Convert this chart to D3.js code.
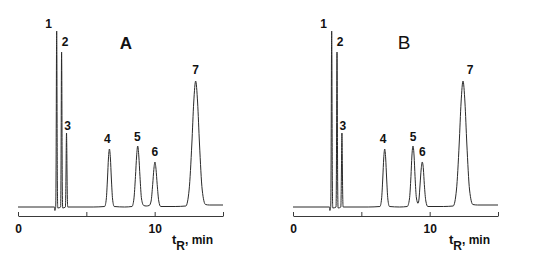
<!DOCTYPE html>
<html>
<head>
<meta charset="utf-8">
<script src="https://cdn.jsdelivr.net/npm/d3@7"></script>
<style>
  body { margin: 0; background: #fff; }
  text { font-family: "Liberation Sans", Arial, sans-serif; fill: #111; }
</style>
</head>
<body>
<div id="chart"></div>
<script>
// peak table (retention time in min, height in detector units)
const peakIds = ["1", "2", "3", "4", "5", "6", "7"];
const peakTimesA = [2.83, 3.19, 3.55, 6.69, 8.76, 10.02, 13.0];
const peakTimesB = [2.83, 3.22, 3.58, 6.71, 8.78, 9.46, 12.44];
const peakHeights = [176, 155, 74, 58, 61, 45, 126];

// detector trace of run A, [time, signal]
const traceA = [
  [0, 0], [2.66, 0], [2.68, 0], [2.70, -3.5], [2.74, -1],
  [2.76, 0], [2.78, 24], [2.80, 88], [2.815, 150], [2.83, 176], [2.845, 150], [2.86, 88], [2.88, 24], [2.91, -1],
  [3.12, 0], [3.14, 21], [3.16, 78], [3.175, 132], [3.19, 155], [3.205, 132], [3.22, 78], [3.24, 21], [3.27, -1],
  [3.47, 0], [3.49, 10], [3.515, 37], [3.532, 62], [3.55, 74], [3.568, 62], [3.585, 37], [3.61, 10], [3.64, 0],
  [5.5, 0],
  [6.34, 0.5], [6.46, 8], [6.55, 29], [6.62, 49], [6.69, 58], [6.76, 49], [6.83, 29], [6.92, 8], [7.04, 0.5],
  [7.8, 0],
  [8.34, 0.5], [8.48, 8], [8.595, 30.5], [8.68, 51], [8.76, 61], [8.84, 51], [8.925, 30.5], [9.04, 8], [9.2, 1.5],
  [9.38, 1],
  [9.6, 1.5], [9.74, 6], [9.855, 22.5], [9.94, 37.6], [10.02, 45], [10.10, 37.6], [10.185, 22.5], [10.30, 6], [10.44, 0.5],
  [11.5, 0.5],
  [12.28, 1], [12.52, 17], [12.72, 63], [12.86, 105], [13.0, 126], [13.14, 105], [13.28, 63], [13.48, 17], [13.72, 2.5],
  [14.0, 2], [15.0, 2]
];

// detector trace of run B, [time, signal]
const traceB = [
  [0, 0], [2.66, 0], [2.68, 0], [2.70, -3.5], [2.74, -1],
  [2.76, 0], [2.78, 24], [2.80, 88], [2.815, 150], [2.83, 176], [2.845, 150], [2.86, 88], [2.88, 24], [2.91, -1],
  [3.15, 0], [3.17, 21], [3.19, 78], [3.205, 132], [3.22, 155], [3.235, 132], [3.25, 78], [3.27, 21], [3.30, -1],
  [3.50, 0], [3.52, 10], [3.545, 37], [3.562, 62], [3.58, 74], [3.598, 62], [3.615, 37], [3.64, 10], [3.67, 0],
  [5.5, 0],
  [6.36, 0.5], [6.48, 8], [6.57, 29], [6.64, 49], [6.71, 58], [6.78, 49], [6.85, 29], [6.94, 8], [7.06, 0.5],
  [7.8, 0],
  [8.36, 0.5], [8.52, 8], [8.63, 30.5], [8.70, 51], [8.78, 61], [8.86, 51], [8.93, 30.5], [9.03, 9],
  [9.15, 3.7],
  [9.22, 8], [9.30, 23], [9.38, 38], [9.46, 45], [9.54, 38], [9.61, 22.5], [9.72, 6], [9.86, 0.5],
  [11.0, 0.5],
  [11.72, 1], [11.96, 17], [12.16, 63], [12.30, 105], [12.44, 126], [12.58, 105], [12.72, 63], [12.92, 17], [13.16, 2.5],
  [13.5, 2], [15.0, 2]
];

const tickValues = [0, 5, 10, 15];
const tickLabels = [0, 10];

//layout
let svgWidth = 552;
let svgHeight = 258;
let yBase = 207;
let yTop = 27;
let axisY = 216;

// label nudges (px) so the numbers sit where the original put them
let nudgeA = [[-8, -3], [3.5, -6], [1, -3], [-2, -6], [-0.5, -5], [0, -6], [0, -7]];
let nudgeB = [[-8, -3], [3, -6], [1, -3], [-1.5, -6], [0, -5], [0, -6], [7, -7]];

let svg = d3.select("#chart")
  .append("svg")
  .attr("width", svgWidth)
  .attr("height", svgHeight);

let yScale = d3.scaleLinear()
  .domain([0, 180])
  .range([yBase, yTop]);

function drawPanel(xRange, trace, times, nudges, letter, letterX, letterStyle, axisTitleX) {
  let xScale = d3.scaleLinear()
    .domain([0, 15])
    .range(xRange);

  //trace
  let line = d3.line()
    .x(d => xScale(d[0]))
    .y(d => yScale(d[1]))
    .curve(d3.curveMonotoneX);

  svg.append("path")
    .datum(trace)
    .attr("fill", "none")
    .attr("stroke", "#2a2a2a")
    .attr("stroke-width", 1)
    .attr("d", line);

  //time axis, ticks pointing up
  let axisTicks = d3.axisTop(xScale)
    .tickValues(tickValues)
    .tickSize(4)
    .tickSizeOuter(0)
    .tickFormat("");

  let gAxis = svg.append("g")
    .attr("transform", `translate(0,${axisY})`)
    .call(axisTicks);
  gAxis.selectAll("path, line").attr("stroke", "#3a3a3a").attr("stroke-width", 1);

  //tick labels below
  let axisLabels = d3.axisBottom(xScale)
    .tickValues(tickLabels)
    .tickSize(0)
    .tickPadding(8)
    .tickFormat(d3.format("d"));

  let gLab = svg.append("g")
    .attr("transform", `translate(0,${axisY})`)
    .call(axisLabels);
  gLab.select(".domain").remove();
  gLab.selectAll("text")
    .attr("font-family", "Liberation Sans, Arial, sans-serif")
    .attr("font-size", 12)
    .attr("font-weight", "bold")
    .attr("fill", "#111");

  //axis title t_R, min
  let title = svg.append("text")
    .attr("x", axisTitleX)
    .attr("y", 244)
    .attr("font-size", 12)
    .attr("font-weight", "bold");
  title.append("tspan").attr("font-size", 13).text("t");
  title.append("tspan").attr("dy", 6).attr("font-size", 12).text("R");
  title.append("tspan").attr("dy", -6).text(", min");

  //peak numbers
  svg.append("g")
    .selectAll("text")
    .data(peakIds)
    .join("text")
    .attr("x", (d, i) => xScale(times[i]) + nudges[i][0])
    .attr("y", (d, i) => yScale(peakHeights[i]) + nudges[i][1])
    .attr("text-anchor", "middle")
    .attr("font-size", 12)
    .attr("font-weight", "bold")
    .text(d => d);

  //panel letter
  svg.append("text")
    .attr("x", letterX)
    .attr("y", 49)
    .attr("text-anchor", "middle")
    .attr("font-size", letterStyle.size)
    .attr("font-weight", letterStyle.weight)
    .text(letter);
}

drawPanel([18, 223], traceA, peakTimesA, nudgeA, "A", 126, {size: 17, weight: "bold"}, 172);
drawPanel([293, 498], traceB, peakTimesB, nudgeB, "B", 404, {size: 19, weight: "normal"}, 449);
</script>
</body>
</html>
